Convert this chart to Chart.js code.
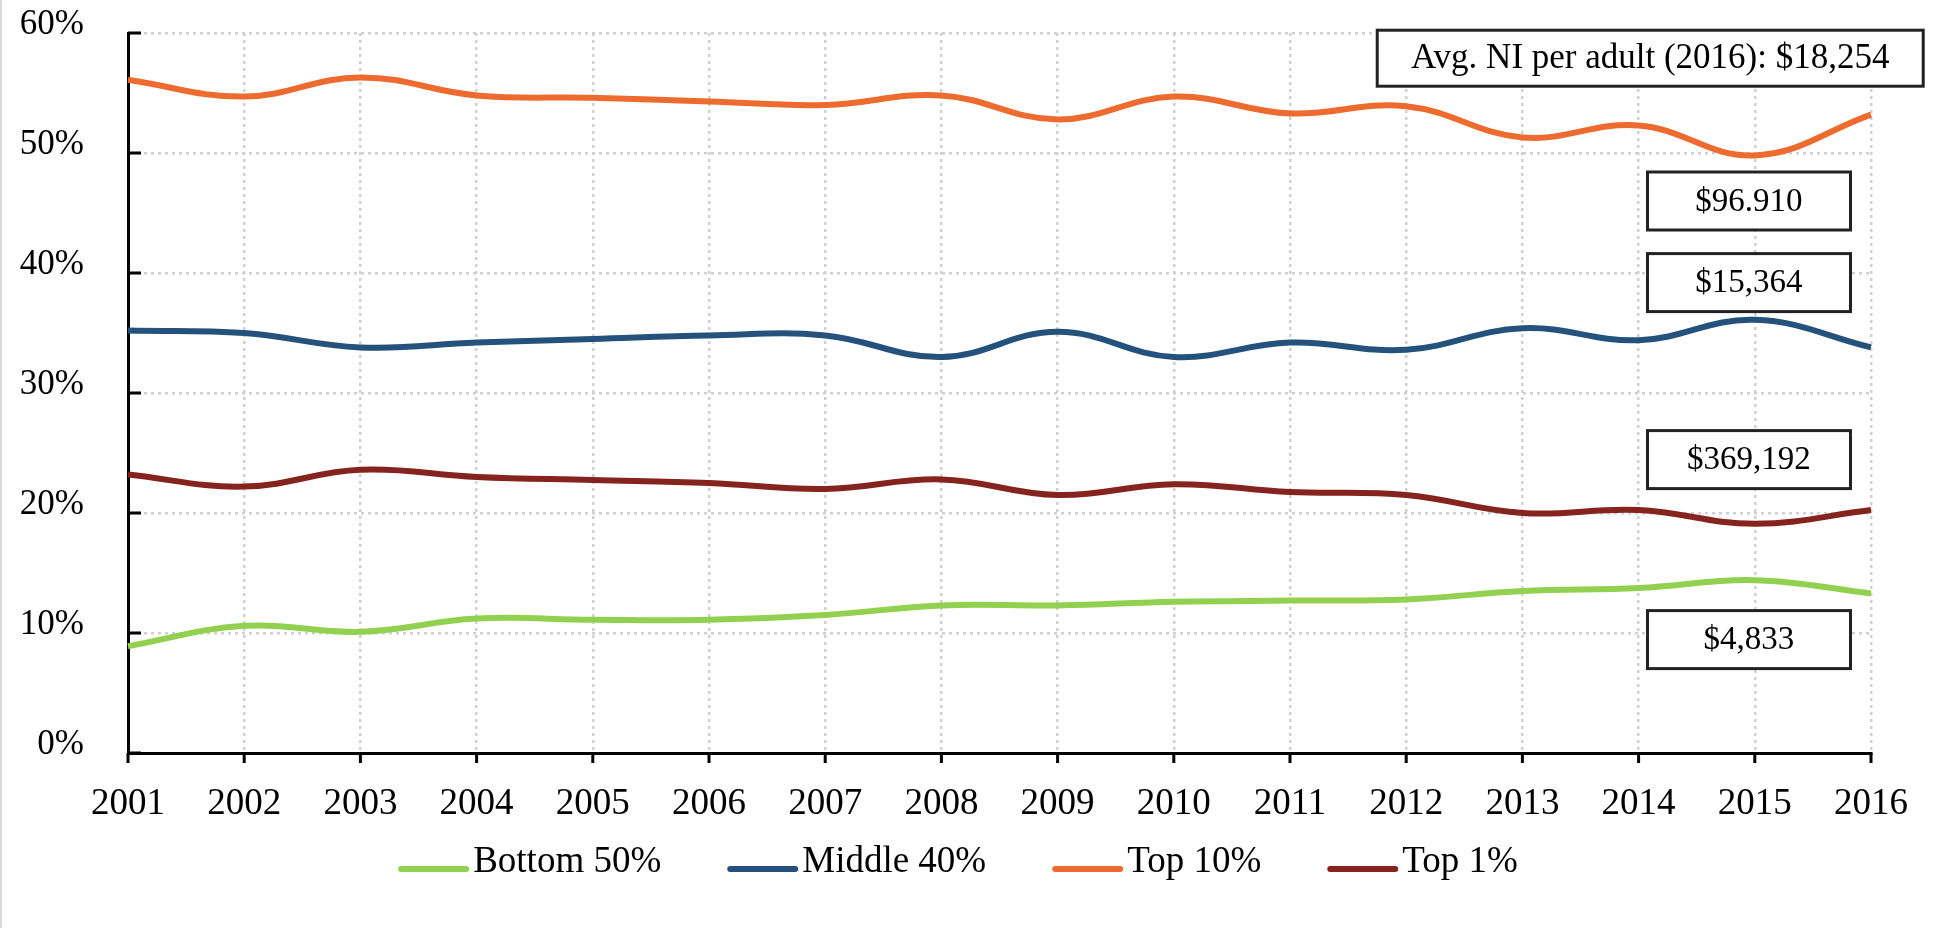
<!DOCTYPE html>
<html>
<head>
<meta charset="utf-8">
<script src="https://cdn.jsdelivr.net/npm/chart.js@4.4.0/dist/chart.umd.min.js"></script>
<style>
  html, body { margin: 0; padding: 0; background: #fff; }
  #wrap { width: 1946px; height: 928px; }
</style>
</head>
<body>
<div id="wrap"><canvas id="shareChart" width="1946" height="928"></canvas></div>
<script>
// Income shares by group, 2001-2016
const years = ['2001', '2002', '2003', '2004', '2005', '2006', '2007', '2008',
               '2009', '2010', '2011', '2012', '2013', '2014', '2015', '2016'];
const bottom50 = [8.9, 10.6, 10.1, 11.2, 11.1, 11.1, 11.5, 12.3, 12.3, 12.6, 12.7, 12.8, 13.5, 13.75, 14.4, 13.3];
const middle40 = [35.2, 35.0, 33.8, 34.2, 34.5, 34.8, 34.8, 33.0, 35.1, 33.0, 34.2, 33.6, 35.4, 34.4, 36.1, 33.8];
const top10 = [56.1, 54.7, 56.3, 54.8, 54.6, 54.3, 54.0, 54.8, 52.8, 54.7, 53.3, 53.9, 51.3, 52.3, 49.8, 53.2];
const top1 = [23.2, 22.2, 23.6, 23.0, 22.75, 22.5, 22.0, 22.8, 21.5, 22.4, 21.75, 21.5, 20.0, 20.25, 19.1, 20.25];

const seriesNames = ['Bottom 50%', 'Middle 40%', 'Top 10%', 'Top 1%'];
const seriesColors = ['#92d050', '#24527c', '#ed6b2f', '#85241e'];

// boxed notes: text, and where they sit (x = year index, y = share %)
const noteTexts = ['Avg. NI per adult (2016): $18,254', '$96.910', '$15,364', '$369,192', '$4,833'];
const noteX = [13.1, 13.95, 13.95, 13.95, 13.95];
const noteY = [57.9, 46.0, 39.2, 24.45, 9.45];

const serif = '"Liberation Serif", "Times New Roman", serif';

const notesAndTicks = {
    id: 'notesAndTicks',
    beforeDraw(chart) {
        const ctx = chart.ctx;
        ctx.save();
        ctx.fillStyle = '#d9d9d9';
        ctx.fillRect(0, 0, 2, chart.height);
        ctx.restore();
    },
    afterDraw(chart) {
        const ctx = chart.ctx;
        const xs = chart.scales.x, ys = chart.scales.y;
        const area = chart.chartArea;
        ctx.save();

        // small tick marks: x below the axis, y inside the plot
        ctx.strokeStyle = '#000';
        ctx.lineWidth = 3;
        ctx.beginPath();
        years.forEach((y, i) => {
            const px = xs.getPixelForValue(i);
            ctx.moveTo(px, area.bottom);
            ctx.lineTo(px, area.bottom + 10);
        });
        for (let v = 0; v <= 60; v += 10) {
            const py = ys.getPixelForValue(v);
            ctx.moveTo(area.left, py);
            ctx.lineTo(area.left + 13, py);
        }
        ctx.stroke();

        // boxed notes
        noteTexts.forEach((txt, i) => {
            const cx = xs.getPixelForValue(noteX[i]);
            const cy = ys.getPixelForValue(noteY[i]);
            const w = i === 0 ? 546 : 203;
            const h = i === 0 ? 56 : 58;
            ctx.fillStyle = '#fff';
            ctx.fillRect(cx - w / 2, cy - h / 2, w, h);
            ctx.strokeStyle = '#222';
            ctx.lineWidth = 3;
            ctx.strokeRect(cx - w / 2, cy - h / 2, w, h);
            ctx.fillStyle = '#000';
            ctx.font = (i === 0 ? '35px ' : '33px ') + serif;
            ctx.textAlign = 'center';
            ctx.textBaseline = 'middle';
            ctx.fillText(txt, cx, cy + 1);
        });

        // legend under the axis
        ctx.font = '37px ' + serif;
        ctx.textAlign = 'left';
        ctx.textBaseline = 'alphabetic';
        const lineLen = 71, gap = 4, spacing = 66;
        const items = chart.data.datasets.map(ds => ({
            label: ds.label, color: ds.borderColor, w: ctx.measureText(ds.label).width
        }));
        const total = items.reduce((s, it) => s + lineLen + gap + it.w, 0) + spacing * (items.length - 1);
        let x = (chart.width - total) / 2 - 15;
        const base = chart.height - 56;
        items.forEach(it => {
            ctx.strokeStyle = it.color;
            ctx.lineWidth = 6;
            ctx.lineCap = 'round';
            ctx.beginPath();
            ctx.moveTo(x + 3, base - 3);
            ctx.lineTo(x + lineLen - 3, base - 3);
            ctx.stroke();
            ctx.fillStyle = '#000';
            ctx.fillText(it.label, x + lineLen + gap, base);
            x += lineLen + gap + it.w + spacing;
        });
        ctx.restore();
    }
};

const groups = [bottom50, middle40, top10, top1];

const ctx = document.getElementById('shareChart').getContext('2d');
const shareChart = new Chart(ctx, {
    type: 'line',
    data: {
        labels: years,
        datasets: groups.map((vals, i) => ({
            label: seriesNames[i],
            data: vals,
            borderColor: seriesColors[i],
            backgroundColor: seriesColors[i],
            borderWidth: 6,
            pointRadius: 0,
            tension: 0.4,
            fill: false
        }))
    },
    options: {
        responsive: false,
        animation: false,
        devicePixelRatio: 1,
        layout: {
            padding: { top: 33, right: 75, bottom: 95, left: 0 }
        },
        plugins: {
            legend: { display: false },
            tooltip: { enabled: false }
        },
        scales: {
            x: {
                grid: { color: '#d0d0d0', lineWidth: 2.5, drawTicks: false },
                border: { display: true, color: '#000', width: 3, dash: [3, 4] },
                ticks: {
                    color: '#000',
                    font: { family: serif, size: 37 },
                    padding: 29,
                    maxRotation: 0,
                    autoSkip: false
                },
                afterFit(scale) { scale.height = 80; }
            },
            y: {
                min: 0,
                max: 60,
                grid: { color: '#d0d0d0', lineWidth: 2.5, drawTicks: false },
                border: { display: true, color: '#000', width: 3, dash: [3, 4] },
                ticks: {
                    stepSize: 10,
                    color: '#000',
                    font: { family: serif, size: 35 },
                    padding: 44,
                    labelOffset: -8,
                    callback: v => v + '%'
                },
                afterFit(scale) {
                    scale.width = 128;
                    scale.paddingTop = 0;
                    scale.paddingBottom = 0;
                }
            }
        }
    },
    plugins: [notesAndTicks]
});
</script>
</body>
</html>
